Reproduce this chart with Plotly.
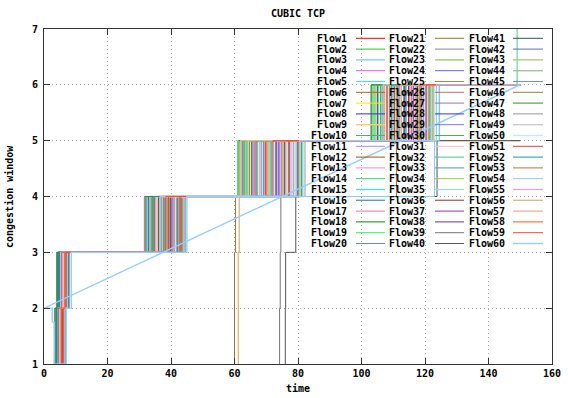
import plotly.graph_objects as go

# ---------------- data ----------------
flow_names = [f"Flow{i}" for i in range(1, 61)]

flow_colors = [
    "#ff0000", "#22cc22", "#88ccff", "#ee55ee", "#33eeee", "#cc5511", "#eeee00", "#3333cc", "#ffcc66", "#55aa77",
    "#aa88ff", "#995511", "#ee88ee", "#33cc77", "#55dddd", "#6699aa", "#dd7799", "#118811", "#33ee66", "#778899",
    "#997722", "#888888", "#99cc66", "#6666cc", "#aa8844", "#aa7777", "#997799", "#3333ee", "#7777ee", "#55aa55",
    "#ffbbcc", "#44cc88", "#5599aa", "#99cc33", "#aaddcc", "#bb6666", "#9933bb", "#663399", "#777777", "#555555",
    "#335555", "#5577aa", "#aacc88", "#aabbaa", "#779999", "#888844", "#229922", "#999999", "#cccccc", "#cce6f8",
    "#dd4444", "#119999", "#bb7733", "#88ccee", "#ddaadd", "#ddbb88", "#ee9977", "#ff5522", "#ff4444", "#99ccff",
]
thick_flows = [3, 9, 15, 16, 23, 35, 36, 43, 44, 49, 50, 55, 56, 60]

# times (s) at which each flow's congestion window reaches 2, 3, 4, 5, 6, 7 (None = never)
rise_to_2 = [5.6, 4.1, 6.8, 3.9, 4.6, 5.0, 4.4, 5.8, 6.1, 3.7,
             6.4, 4.9, 5.3, 3.5, 6.6, 4.3, 5.9, 4.0, 5.2, 4.7,
             60.0, 5.5, 6.3, 4.2, 5.1, 6.0, 4.5, 3.8, 5.7, 6.2,
             4.8, 5.4, 3.6, 6.5, 4.3, 5.0, 4.6, 5.8, 74.2, 76.0,
             4.1, 6.7, 5.3, 4.4, 6.0, 5.5, 3.4, 6.9, 5.1, 4.9,
             5.7, 4.0, 6.2, 6.4, 4.7, 61.2, 5.2, 6.1, 4.5, None]
rise_to_3 = [6.3, 4.9, 7.9, 4.5, 5.2, 5.7, 5.4, 6.6, 7.2, 4.3,
             7.4, 5.6, 6.1, 4.2, 7.6, 4.8, 6.9, 4.6, 6.0, 5.5,
             60.0, 6.2, 7.0, 5.0, 5.9, 6.8, 5.3, 4.4, 6.5, 7.3,
             5.8, 6.4, 4.7, 7.5, 5.1, 6.2, 5.4, 6.7, 74.4, 76.1,
             5.0, 7.7, 6.3, 5.2, 7.1, 6.0, 4.0, 8.0, 5.7, 6.1,
             6.4, 4.9, 6.9, 7.4, 5.3, 61.2, 6.6, 6.7, 5.6, None]
rise_to_4 = [39.4, 33.0, 44.0, 31.6, 37.0, 41.2, 35.2, 38.3, 36.4, 40.1,
             43.1, 34.6, 40.6, 32.3, 42.3, 37.8, 39.0, 33.8, 35.9, 41.7,
             60.3, 38.8, 43.6, 36.8, 34.1, 42.8, 38.1, 32.8, 40.4, 44.3,
             35.5, 39.7, 33.4, 41.9, 37.4, 43.4, 34.9, 39.9, 74.6, 79.3,
             36.1, 42.0, 38.6, 33.6, 40.9, 37.6, 31.9, 44.5, 35.7, 41.4,
             39.2, 34.3, 43.0, 44.2, 36.6, 61.5, 40.8, 38.4, 42.6, None]
rise_to_5 = [69.8, 63.1, 81.5, 66.2, 72.4, 64.7, 61.7, 73.9, 70.6, 62.9,
             77.8, 74.7, 67.9, 61.0, 79.4, 71.5, 76.2, 65.3, 63.8, 68.6,
             111.0, 75.3, 80.6, 69.2, 66.8, 78.5, 72.9, 62.4, 74.1, 81.1,
             67.4, 70.9, 64.2, 76.9, 68.1, 79.9, 65.8, 73.3, 80.5, 123.8,
             75.8, 77.3, 63.5, 69.5, 71.8, 66.5, 61.4, 82.2, 64.4, 78.9,
             70.2, 67.1, 80.2, 123.0, 73.6, 62.0, 75.0, 77.0, 72.1, None]
rise_to_6 = [114.8, 104.0, 121.8, 108.2, 112.1, 110.4, 104.6, 113.6, 107.3, 103.2,
             119.5, 115.7, 109.2, 103.6, 120.6, 111.3, 116.9, 106.5, 105.4, 110.9,
             None, 117.4, 122.3, 112.6, 107.9, 118.7, 113.2, 105.0, 115.2, 121.2,
             109.7, 114.1, 106.0, 118.1, 108.7, 120.1, 107.0, 116.3, 124.5, None,
             117.7, 119.0, 104.3, 110.0, 113.9, 108.9, 103.0, 122.8, 106.8, 119.9,
             111.8, 109.5, 121.5, 124.6, 116.0, 112.5, 117.0, 118.4, 120.4, None]
rise_to_7 = [None] * 31 + [149.0] + [None] * 28
end_time = [150.0] * 60

# Flow60 logged path (its record closes back on the first sample)
flow60_time = [0.0, 2.6, 2.6, 3.2, 3.2, 7.0, 7.0, 8.6, 8.6, 45.0, 45.0, 80.5, 80.5, 123.6, 123.6, 150.0, 0.0]
flow60_cwnd = [2.0, 2.0, 1.75, 1.75, 1.0, 1.0, 2.0, 2.0, 3.0, 3.0, 4.0, 4.0, 5.0, 5.0, 6.0, 6.0, 2.0]

x_ticks = [0, 20, 40, 60, 80, 100, 120, 140, 160]
y_ticks = [1, 2, 3, 4, 5, 6, 7]

# ---------------- figure ----------------
FONT = "DejaVu Sans Mono"
W, H = 568, 398
ML, MR, MT, MB = 44, 16, 29, 34
PW, PH = W - ML - MR, H - MT - MB
THICK, THIN = 1.4, 1


def bold(size=10):
    return dict(family=FONT, size=size, color="#000", weight="bold")


fig = go.Figure()
for i, name in enumerate(flow_names):
    width = THICK if (i + 1) in thick_flows else THIN
    if rise_to_2[i] is None:
        fig.add_trace(go.Scatter(x=flow60_time, y=flow60_cwnd, mode="lines", name=name,
                                 line=dict(color=flow_colors[i], width=width), showlegend=False,
                                 hoverinfo="skip"))
        continue
    xs = [rise_to_2[i], rise_to_2[i], rise_to_3[i], rise_to_4[i], rise_to_5[i]]
    ys = [1, 2, 3, 4, 5]
    if rise_to_6[i] is not None:
        xs.append(rise_to_6[i]); ys.append(6)
    if rise_to_7[i] is not None:
        xs.append(rise_to_7[i]); ys.append(7)
    else:
        xs.append(end_time[i]); ys.append(ys[-1])
    fig.add_trace(go.Scatter(x=xs, y=ys, mode="lines", name=name,
                             line=dict(color=flow_colors[i], width=width, shape="hv"),
                             showlegend=False, hoverinfo="skip"))

# gnuplot-style key: text right-aligned, sample line to its right, 3 columns x 20 rows
col_text_right = [349, 427, 507]
col_sample = [(356, 385), (435, 464), (513, 543)]
row0_y, row_step = 38.3, 10.8
annotations = []
shapes = []
for i, name in enumerate(flow_names):
    c, r = divmod(i, 20)
    py = row0_y + r * row_step
    yp = (H - MB - py) / PH
    annotations.append(dict(text=name, xref="paper", yref="paper",
                            x=(col_text_right[c] - ML) / PW, y=yp, xanchor="right", yanchor="middle",
                            showarrow=False, font=bold()))
    x0, x1 = col_sample[c]
    shapes.append(dict(type="line", xref="paper", yref="paper",
                       x0=(x0 - ML) / PW, x1=(x1 - ML) / PW, y0=yp, y1=yp,
                       line=dict(color=flow_colors[i], width=THICK if (i + 1) in thick_flows else THIN)))

# axis titles
annotations.append(dict(text="time", xref="paper", yref="paper", x=0.5, y=(H - MB - 388) / PH,
                        xanchor="center", yanchor="middle", showarrow=False, font=bold()))
annotations.append(dict(text="congestion window", xref="paper", yref="paper", x=(9 - ML) / PW,
                        y=(H - MB - 197) / PH, xanchor="center", yanchor="middle", textangle=-90,
                        showarrow=False, font=bold()))

axis_common = dict(
    showline=True, linecolor="#333", linewidth=1, mirror="ticks",
    ticks="inside", ticklen=6, tickcolor="#333", tickwidth=1,
    showgrid=True, gridcolor="#aaaaaa", gridwidth=1, griddash="1px,3px",
    zeroline=False, automargin=False,
    tickfont=bold(),
)

fig.update_layout(
    width=W, height=H,
    margin=dict(l=ML, r=MR, t=MT, b=MB, pad=0),
    paper_bgcolor="white", plot_bgcolor="white",
    title=dict(text="CUBIC TCP", x=(ML + PW / 2) / W, xanchor="center", y=1 - 13 / H, yanchor="middle",
               font=bold()),
    xaxis=dict(range=[0, 160], tickvals=x_ticks, ticktext=[str(v) for v in x_ticks], **axis_common),
    yaxis=dict(range=[1, 7], tickvals=y_ticks, ticktext=[str(v) for v in y_ticks],
               ticklabelstandoff=3, **axis_common),
    annotations=annotations,
    shapes=shapes,
    showlegend=False,
)

fig.write_html("out.html", config={"displayModeBar": False},
               post_script="document.body.style.margin='0';document.body.style.padding='0';")
